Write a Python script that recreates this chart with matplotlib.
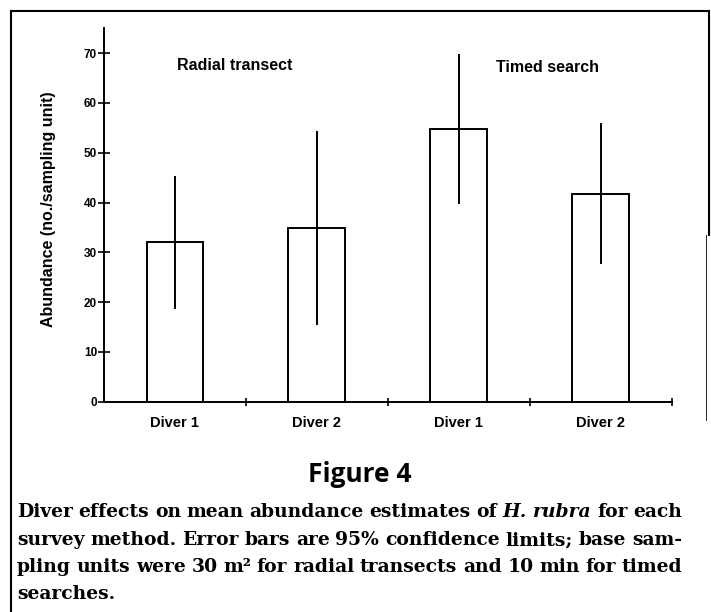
import matplotlib
matplotlib.use("Agg")
import matplotlib.pyplot as plt
from matplotlib.lines import Line2D
import numpy as np

# Survey data
categories = ['Diver 1', 'Diver 2', 'Diver 1', 'Diver 2']
methods = ['Radial transect', 'Timed search']
means = [32.0, 34.8, 54.8, 41.7]
lower_ci = [18.6, 15.4, 39.8, 27.6]
upper_ci = [45.4, 54.3, 69.8, 55.9]
y_ticks = [0, 10, 20, 30, 40, 50, 60, 70]

caption_lines = [
    [('Diver', 0), ('effects', 0), ('on', 0), ('mean', 0), ('abundance', 0), ('estimates', 0),
     ('of', 0), ('H.', 1), ('rubra', 1), ('for', 0), ('each', 0)],
    [('survey', 0), ('method.', 0), ('Error', 0), ('bars', 0), ('are', 0), ('95%', 0),
     ('confidence', 0), ('limits;', 0), ('base', 0), ('sam-', 0)],
    [('pling', 0), ('units', 0), ('were', 0), ('30', 0), ('m\u00b2', 0), ('for', 0), ('radial', 0),
     ('transects', 0), ('and', 0), ('10', 0), ('min', 0), ('for', 0), ('timed', 0)],
    [('searches.', 0)],
]

W, H = 711, 612
fig = plt.figure(figsize=(W / 100, H / 100), dpi=100)
fig.patch.set_facecolor('white')

sans = 'Liberation Sans'
ax = fig.add_axes([104 / W, 1 - 401.7 / H, 567.5 / W, 373.4 / H])

x = np.arange(len(categories))
ax.bar(x, means, width=0.40, color='white', edgecolor='black', linewidth=1.4, zorder=2)
yerr = [np.array(means) - np.array(lower_ci), np.array(upper_ci) - np.array(means)]
ax.errorbar(x, means, yerr=yerr, fmt='none', ecolor='black', elinewidth=1.4, capsize=0, zorder=3)

ax.set_xlim(-0.5, 3.5)
ax.set_ylim(0, 75)
ax.spines['top'].set_visible(False)
ax.spines['right'].set_visible(False)
ax.spines['left'].set_linewidth(1.4)
ax.spines['bottom'].set_linewidth(1.4)

ax.set_yticks(y_ticks)
ax.set_yticklabels([str(v) for v in y_ticks], fontfamily=sans, fontweight='bold', fontsize=8.5)
ax.tick_params(axis='y', direction='inout', length=8, width=1.2, pad=1)
ax.set_xticks(x)
ax.set_xticklabels(categories, fontfamily=sans, fontweight='bold', fontsize=10.5)
ax.tick_params(axis='x', length=0, pad=10)
ax.set_xticks([0.5, 1.5, 2.5, 3.5], minor=True)
ax.tick_params(axis='x', which='minor', direction='inout', length=6, width=1.2)
ax.set_ylabel('Abundance (no./sampling unit)', fontfamily=sans, fontweight='bold', fontsize=11.5)
ax.yaxis.set_label_coords(-0.085, 0.516)

# method labels
fig.text(235 / W, 1 - 66 / H, methods[0], fontfamily=sans, fontweight='bold', fontsize=11.5,
         ha='center', va='center')
fig.text(547 / W, 1 - 68 / H, methods[1], fontfamily=sans, fontweight='bold', fontsize=11.5,
         ha='center', va='center')

fig.text(360 / W, 1 - 475 / H, 'Figure 4', fontfamily='Open Sans', fontweight='bold',
         fontsize=19, ha='center', va='center')

# caption, justified line by line
renderer = fig.canvas.get_renderer()
x0, x1 = 17, 682
line_y = [512, 540, 567, 594]
for i, (words, yy) in enumerate(zip(caption_lines, line_y)):
    texts = []
    for w, it in words:
        t = fig.text(0, 1 - yy / H, w, fontfamily='DejaVu Serif', fontweight='bold',
                     fontstyle='italic' if it else 'normal', fontsize=13.5, va='center')
        texts.append(t)
    widths = [t.get_window_extent(renderer).width for t in texts]
    if i < len(caption_lines) - 1:
        gap = (x1 - x0 - sum(widths)) / (len(texts) - 1)
    else:
        gap = 5
    xp = x0
    for t, wd in zip(texts, widths):
        t.set_x(xp / W)
        xp += wd + gap

# scanned page frame
def px_line(xs, ys, lw):
    fig.add_artist(Line2D([v / W for v in xs], [1 - v / H for v in ys],
                          color='black', linewidth=lw, transform=fig.transFigure))

px_line([11, 709], [11, 11], 1.5)
px_line([11, 11], [11, 612], 1.5)
px_line([709, 709], [11, 235], 1.5)
px_line([706, 706], [235, 420], 0.6)

fig.savefig('out.png', dpi=100)
